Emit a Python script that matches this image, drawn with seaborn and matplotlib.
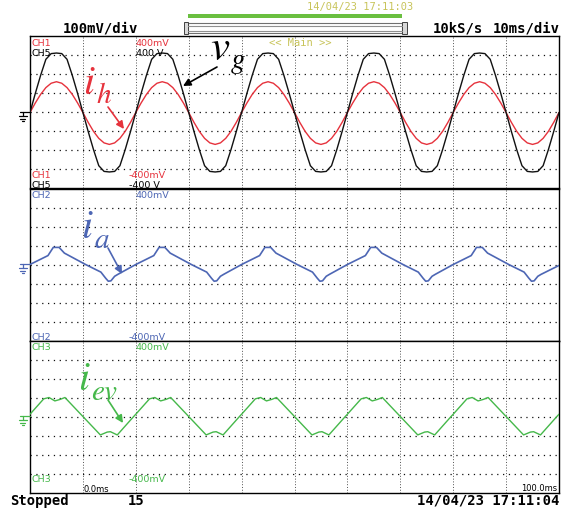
"""
Oscilloscope capture: grid voltage v_g, currents i_h, i_a, i_ev.
"""
import matplotlib
matplotlib.use("Agg")
import matplotlib.pyplot as plt
from matplotlib.patches import Rectangle
import seaborn as sns

sns.set_style("white")
plt.rcParams['font.family'] = ['DejaVu Sans']
plt.rcParams['mathtext.fontset'] = 'stix'
plt.rcParams['lines.scale_dashes'] = False

W, H = 577, 511

# ---- data (time in ms, amplitude in divisions) ----
t_ms = list(range(0, 101))

# CH5 grid voltage v_g (100 V/div), one line per 20 ms period
v_g = [
    0, 1.00, 1.95, 2.80, 3.10, 3.13, 3.10, 2.80, 1.95, 1.00,
    0, -1.00, -1.95, -2.80, -3.10, -3.13, -3.10, -2.80, -1.95, -1.00,
    0, 1.00, 1.95, 2.80, 3.10, 3.13, 3.10, 2.80, 1.95, 1.00,
    0, -1.00, -1.95, -2.80, -3.10, -3.13, -3.10, -2.80, -1.95, -1.00,
    0, 1.00, 1.95, 2.80, 3.10, 3.13, 3.10, 2.80, 1.95, 1.00,
    0, -1.00, -1.95, -2.80, -3.10, -3.13, -3.10, -2.80, -1.95, -1.00,
    0, 1.00, 1.95, 2.80, 3.10, 3.13, 3.10, 2.80, 1.95, 1.00,
    0, -1.00, -1.95, -2.80, -3.10, -3.13, -3.10, -2.80, -1.95, -1.00,
    0, 1.00, 1.95, 2.80, 3.10, 3.13, 3.10, 2.80, 1.95, 1.00,
    0, -1.00, -1.95, -2.80, -3.10, -3.13, -3.10, -2.80, -1.95, -1.00,
    0,
]

# CH1 current i_h
i_h = [
    0, 0.50, 0.95, 1.31, 1.54, 1.62, 1.54, 1.31, 0.95, 0.50,
    0, -0.52, -0.99, -1.36, -1.60, -1.68, -1.60, -1.36, -0.99, -0.52,
    0, 0.50, 0.95, 1.31, 1.54, 1.62, 1.54, 1.31, 0.95, 0.50,
    0, -0.52, -0.99, -1.36, -1.60, -1.68, -1.60, -1.36, -0.99, -0.52,
    0, 0.50, 0.95, 1.31, 1.54, 1.62, 1.54, 1.31, 0.95, 0.50,
    0, -0.52, -0.99, -1.36, -1.60, -1.68, -1.60, -1.36, -0.99, -0.52,
    0, 0.50, 0.95, 1.31, 1.54, 1.62, 1.54, 1.31, 0.95, 0.50,
    0, -0.52, -0.99, -1.36, -1.60, -1.68, -1.60, -1.36, -0.99, -0.52,
    0, 0.50, 0.95, 1.31, 1.54, 1.62, 1.54, 1.31, 0.95, 0.50,
    0, -0.52, -0.99, -1.36, -1.60, -1.68, -1.60, -1.36, -0.99, -0.52,
    0,
]

# CH2 current i_a (vertices)
t_a = [
    0.0, 3.4, 4.4, 5.5, 6.5, 10.5, 13.4, 14.3, 14.8, 15.3, 16.0, 16.6,
    20.0, 23.4, 24.4, 25.5, 26.5, 30.5, 33.4, 34.3, 34.8, 35.3, 36.0, 36.6,
    40.0, 43.4, 44.4, 45.5, 46.5, 50.5, 53.4, 54.3, 54.8, 55.3, 56.0, 56.6,
    60.0, 63.4, 64.4, 65.5, 66.5, 70.5, 73.4, 74.3, 74.8, 75.3, 76.0, 76.6,
    80.0, 83.4, 84.4, 85.5, 86.5, 90.5, 93.4, 94.3, 94.8, 95.3, 96.0, 96.6,
    100.0,
]
i_a = [
    0.0, 0.47, 0.90, 0.90, 0.60, 0.0, -0.40, -0.72, -0.88, -0.86, -0.62, -0.52,
    0.0, 0.47, 0.90, 0.90, 0.60, 0.0, -0.40, -0.72, -0.88, -0.86, -0.62, -0.52,
    0.0, 0.47, 0.90, 0.90, 0.60, 0.0, -0.40, -0.72, -0.88, -0.86, -0.62, -0.52,
    0.0, 0.47, 0.90, 0.90, 0.60, 0.0, -0.40, -0.72, -0.88, -0.86, -0.62, -0.52,
    0.0, 0.47, 0.90, 0.90, 0.60, 0.0, -0.40, -0.72, -0.88, -0.86, -0.62, -0.52,
    -0.05,
]

# CH3 current i_ev (vertices)
t_ev = [
    0.0, 2.6, 3.6, 4.7, 5.7, 6.6, 10.0, 13.3, 14.6, 15.2, 16.5, 19.6,
    20.0, 22.6, 23.6, 24.7, 25.7, 26.6, 30.0, 33.3, 34.6, 35.2, 36.5, 39.6,
    40.0, 42.6, 43.6, 44.7, 45.7, 46.6, 50.0, 53.3, 54.6, 55.2, 56.5, 59.6,
    60.0, 62.6, 63.6, 64.7, 65.7, 66.6, 70.0, 73.3, 74.6, 75.2, 76.5, 79.6,
    80.0, 82.6, 83.6, 84.7, 85.7, 86.6, 90.0, 93.3, 94.6, 95.2, 96.5, 99.6,
    100.0,
]
i_ev = [
    0.12, 0.93, 1.0, 0.82, 0.90, 1.0, 0.0, -0.97, -0.82, -0.80, -0.97, 0.0,
    0.12, 0.93, 1.0, 0.82, 0.90, 1.0, 0.0, -0.97, -0.82, -0.80, -0.97, 0.0,
    0.12, 0.93, 1.0, 0.82, 0.90, 1.0, 0.0, -0.97, -0.82, -0.80, -0.97, 0.0,
    0.12, 0.93, 1.0, 0.82, 0.90, 1.0, 0.0, -0.97, -0.82, -0.80, -0.97, 0.0,
    0.12, 0.93, 1.0, 0.82, 0.90, 1.0, 0.0, -0.97, -0.82, -0.80, -0.97, 0.0,
    0.12,
]

RED = '#e6323c'
BLUE = '#4d66b4'
GREEN = '#45b84a'
YELLOW = '#c8c45a'

fig = plt.figure(figsize=(W / 100, H / 100), dpi=100)
fig.patch.set_facecolor('white')

# three stacked panels, 152 px tall each
left, right, top = 30, 559, 36.5
ph = 152
axes = []
for k in range(3):
    t0 = top + k * ph
    ax = fig.add_axes([left / W, 1 - (t0 + ph) / H, (right - left) / W, ph / H])
    ax.set_xlim(0, 100)
    ax.set_ylim(-4, 4)
    ax.set_xticks([])
    ax.set_yticks([])
    for s in ax.spines.values():
        s.set_color('black')
        s.set_linewidth(1.0)
    for x in range(10, 100, 10):
        ax.axvline(x, color='#505050', lw=0.7, dashes=(0.7, 1.3), zorder=1)
    for y in range(-3, 4):
        ax.axhline(y, color='#101010', lw=0.9, dashes=(0.9, 3.3), zorder=1)
    axes.append(ax)

sns.lineplot(x=t_ms, y=i_h, ax=axes[0], color=RED, lw=1.0, estimator=None, zorder=3)
sns.lineplot(x=t_ms, y=v_g, ax=axes[0], color='#111111', lw=1.0, estimator=None, zorder=4)
sns.lineplot(x=t_a, y=i_a, ax=axes[1], color=BLUE, lw=1.2, estimator=None, zorder=3)
sns.lineplot(x=t_ev, y=i_ev, ax=axes[2], color=GREEN, lw=1.0, estimator=None, zorder=3)

# overlay in pixel coordinates for screen texts
ov = fig.add_axes([0, 0, 1, 1], zorder=10)
ov.set_xlim(0, W)
ov.set_ylim(H, 0)
ov.axis('off')
ov.patch.set_alpha(0)

mono = 'DejaVu Sans Mono'

def put(x, y, s, color='black', size=6.5, ha='left', va='top', **kw):
    ov.text(x, y, s, color=color, fontsize=size, ha=ha, va=va, **kw)

# header
put(100, 28, '100mV/div', size=10, ha='center', va='center', family=mono, fontweight='bold')
put(433, 28, '10kS/s', size=10, va='center', family=mono, fontweight='bold')
put(560, 28, '10ms/div', size=10, ha='right', va='center', family=mono, fontweight='bold')
put(360, 7, '14/04/23 17:11:03', color=YELLOW, size=7.5, ha='center', va='center', family=mono)
put(300, 43, '<< Main >>', color=YELLOW, size=7.5, ha='center', va='center', family=mono)
ov.add_patch(Rectangle((188, 14), 214, 4, color='#6abf40', lw=0))
ov.add_patch(Rectangle((188, 23.5), 214, 10, facecolor='white', edgecolor='#707070', lw=0.8))
ov.plot([188, 402], [26.2, 26.2], color='#909090', lw=0.8)
ov.plot([188, 402], [30.8, 30.8], color='#909090', lw=0.8)
ov.add_patch(Rectangle((183.5, 22.5), 4.5, 12, facecolor='#d8d8d8', edgecolor='#404040', lw=0.7))
ov.add_patch(Rectangle((402, 22.5), 4.5, 12, facecolor='#d8d8d8', edgecolor='#404040', lw=0.7))

# channel labels
labels = [
    ('CH1', 32, 39, RED), ('CH5', 32, 49, 'black'),
    ('400mV', 136, 39, RED), ('400 V', 136, 49, 'black'),
    ('CH1', 32, 171, RED), ('CH5', 32, 181, 'black'),
    ('-400mV', 129, 171, RED), ('-400 V', 129, 181, 'black'),
    ('CH2', 32, 191.5, BLUE), ('400mV', 136, 191.5, BLUE),
    ('CH2', 32, 332.5, BLUE), ('-400mV', 129, 332.5, BLUE),
    ('CH3', 32, 343.5, GREEN), ('400mV', 136, 343.5, GREEN),
    ('CH3', 32, 474.5, GREEN), ('-400mV', 129, 474.5, GREEN),
]
for s, x, y, c in labels:
    put(x, y, s, color=c, size=6.8)

put(83, 485.5, '0.0ms', size=6)
put(557, 484, '100.0ms', size=6, ha='right')

# footer
put(10, 501, 'Stopped', size=10, va='center', family=mono, fontweight='bold')
put(128, 501, '15', size=10, va='center', family=mono, fontweight='bold')
put(559, 501, '14/04/23 17:11:04', size=10, ha='right', va='center', family=mono, fontweight='bold')

# ground markers
def gnd(yc, color):
    ov.plot([20, 30], [yc, yc], color=color, lw=0.9)
    ov.plot([22.5, 22.5], [yc, yc + 4], color=color, lw=0.9)
    ov.plot([18.5, 26.5], [yc + 4, yc + 4], color=color, lw=0.9)
    ov.plot([20, 25], [yc + 6.5, yc + 6.5], color=color, lw=0.9)
    ov.plot([21.5, 23.5], [yc + 9, yc + 9], color=color, lw=0.9)

gnd(112.5, 'black')
gnd(264.5, BLUE)
gnd(416.5, GREEN)

# trace annotations: symbol plus a larger, lower subscript placed beside it
def label(x, y, main, sub, dx, dy, color, size=29, subsize=21):
    ov.text(x, y, '$' + main + '$', fontsize=size, color=color, ha='left', va='baseline')
    ov.text(x + dx, y + dy, '$' + sub + '$', fontsize=subsize, color=color,
            ha='left', va='baseline')

arrow = dict(arrowstyle='-|>', lw=1.2, mutation_scale=11, shrinkA=0, shrinkB=0)
label(210, 60, 'v', 'g', 20, 8, 'black', size=31)
ov.annotate('', xy=(183, 86), xytext=(217, 67), arrowprops=dict(arrow, color='black'))
label(83, 94, 'i', 'h', 13, 9, RED)
ov.annotate('', xy=(124, 129), xytext=(108, 107), arrowprops=dict(arrow, color=RED))
label(81, 238, 'i', 'a', 13, 10, BLUE)
ov.annotate('', xy=(122, 274), xytext=(108, 248), arrowprops=dict(arrow, color=BLUE))
label(78, 390, 'i', 'ev', 13, 10, GREEN)
ov.annotate('', xy=(123, 423), xytext=(108, 400), arrowprops=dict(arrow, color=GREEN))

fig.savefig('out.png', dpi=100)
print("Saved: out.png")
